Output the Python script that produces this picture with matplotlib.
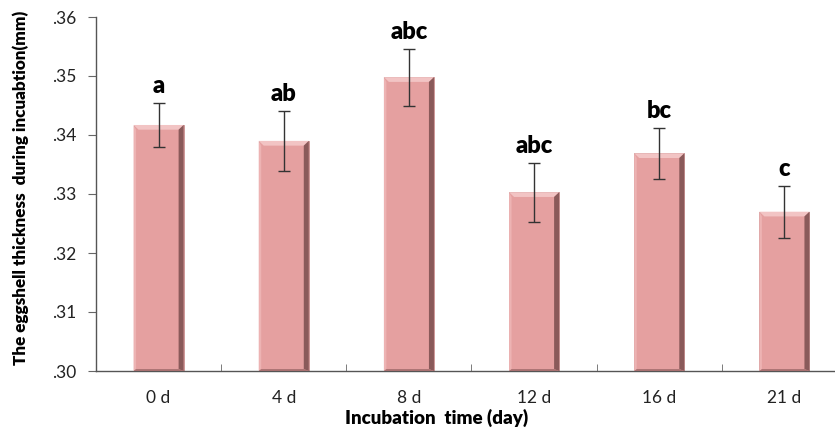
import matplotlib
matplotlib.use("Agg")
import matplotlib.pyplot as plt
from matplotlib.patches import Polygon
import numpy as np

categories = ["0 d", "4 d", "8 d", "12 d", "16 d", "21 d"]
means = [0.3417, 0.3390, 0.3498, 0.3303, 0.3369, 0.3270]
errors = [0.0038, 0.0051, 0.0048, 0.0050, 0.0043, 0.0044]
letters = ["a", "ab", "abc", "abc", "bc", "c"]
yticks = [0.30, 0.31, 0.32, 0.33, 0.34, 0.35, 0.36]
yticklabels = [".30", ".31", ".32", ".33", ".34", ".35", ".36"]

plt.rcParams['font.family'] = ['Lato', 'DejaVu Sans']

fig = plt.figure(figsize=(8.35, 4.3), dpi=100)
ax = fig.add_axes([96/835, 59/430, 751/835, 354/430])

x = np.arange(len(categories))
w = 0.4
base = 0.30
ax.bar(x, np.array(means) - base, bottom=base, width=w, color="#E5A0A0",
       edgecolor="#C99090", linewidth=0.6, zorder=2)

# bevel effect
dx = 0.04
dy = 0.0008
for xi, m in zip(x, means):
    l, r = xi - w/2, xi + w/2
    ax.add_patch(Polygon([[l, m], [r, m], [r - dx, m - dy], [l + dx, m - dy]],
                         closed=True, facecolor="#F2C4C4", edgecolor="none", zorder=3))
    ax.add_patch(Polygon([[r, m], [r, base], [r - dx, base + dy*0.4], [r - dx, m - dy]],
                         closed=True, facecolor="#8A5A5A", edgecolor="none", zorder=3))
    ax.add_patch(Polygon([[l, m], [l, base], [l + dx*0.5, base + dy*0.4], [l + dx*0.5, m - dy]],
                         closed=True, facecolor="#EDB3B3", edgecolor="none", zorder=3))
    ax.add_patch(Polygon([[l, base], [r, base], [r - dx, base + dy*0.4], [l + dx*0.5, base + dy*0.4]],
                         closed=True, facecolor="#A87070", edgecolor="none", zorder=3))

ax.errorbar(x, means, yerr=errors, fmt="none", ecolor="#333333", elinewidth=1,
            capsize=4, capthick=1, zorder=4)

for xi, m, e, t in zip(x, means, errors, letters):
    ax.annotate(t, xy=(xi, m + e), xytext=(0, 4), textcoords="offset points",
                ha="center", va="bottom", fontsize=17, fontweight="heavy", color="black")

ax.set_xlim(-0.5, len(categories) - 0.5)
ax.set_ylim(0.30, 0.36)
ax.set_yticks(yticks)
ax.set_yticklabels(yticklabels, fontsize=12.5, color="#222222")
ax.tick_params(axis="y", direction="out", length=6, color="#666666", pad=8)

ax.set_xticks(x)
ax.set_xticklabels(categories, fontsize=12.5, color="#222222")
ax.tick_params(axis="x", which="major", length=0, pad=14)
ax.set_xticks(np.arange(len(categories) + 1) - 0.5, minor=True)
ax.tick_params(axis="x", which="minor", direction="in", length=5, color="#666666")

for s in ["top", "right"]:
    ax.spines[s].set_visible(False)
for s in ["left", "bottom"]:
    ax.spines[s].set_color("#555555")
    ax.spines[s].set_linewidth(1)

ax.set_ylabel("The eggshell thickness  during incuabtion(mm)", fontsize=12.3,
              fontweight="heavy")
ax.yaxis.set_label_coords(-67 / 751, (371 - 188) / 354)
ax.set_xlabel("Incubation  time (day)", fontsize=13.5, fontweight="heavy")
ax.xaxis.set_label_coords((437 - 96) / 751, -38 / 354)

fig.savefig("out.png", dpi=100)
